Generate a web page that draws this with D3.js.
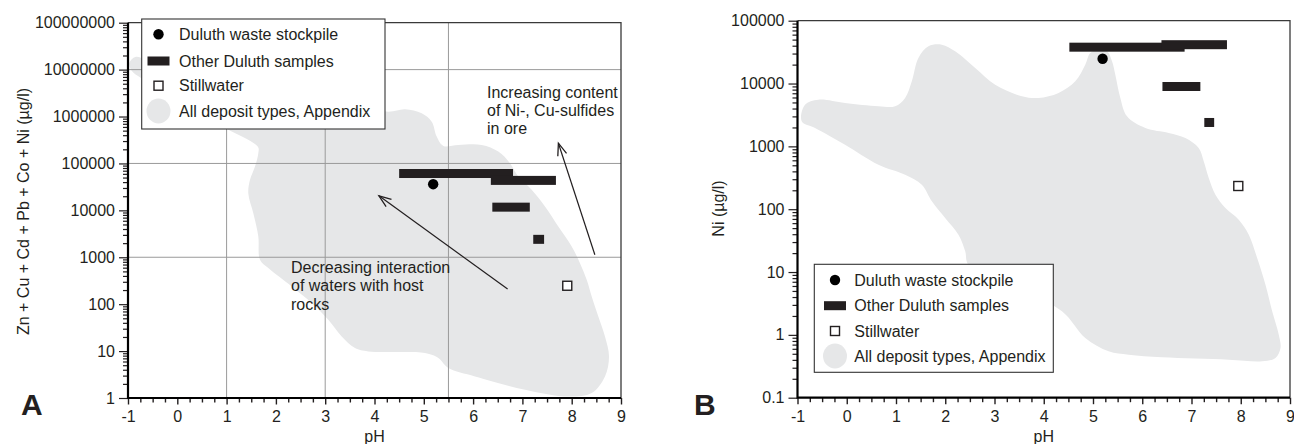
<!DOCTYPE html>
<html>
<head>
<meta charset="utf-8">
<script src="https://cdn.jsdelivr.net/npm/d3@7"></script>
<style>
  html, body { margin: 0; padding: 0; background: #fff; }
  svg text { font-family: "Liberation Sans", Arial, Helvetica, sans-serif; fill: #231f20; }
</style>
</head>
<body>
<svg id="chart" width="1294" height="444"></svg>
<script>
// ---- shared axis values ----
const phMajorTicks = [-1, 0, 1, 2, 3, 4, 5, 6, 7, 8, 9];
const phTickLabels = ["-1", "0", "1", "2", "3", "4", "5", "6", "7", "8", "9"];

// ---- panel A: sum of Zn + Cu + Cd + Pb + Co + Ni (µg/l) ----
const sumTicks = [1, 10, 100, 1000, 10000, 100000, 1000000, 10000000, 100000000];
const sumTickLabels = ["1", "10", "100", "1000", "10000", "100000", "1000000", "10000000", "100000000"];
const sumGridPh = [1, 3, 5.5];
const sumGridValues = [1000, 100000, 10000000];

const stockpileA = [[5.19, 36100]];                 // [pH, µg/l]
const otherDuluthA = [                              // [pH low, pH high, µg/l]
  [4.50, 6.81, 61000],
  [6.36, 7.68, 43500],
  [6.39, 7.15, 11700],
  [7.22, 7.44, 2410]
];
const stillwaterA = [[7.91, 247]];
// field of all deposit types: [pH, log10 µg/l]
const depositFieldA = [
  [-0.97, 7.15], [-0.85, 7.27], [-0.6, 7.2], [0.5, 6.95], [2.0, 6.55], [3.5, 6.25],
  [4.28, 6.104], [4.619, 6.155], [4.957, 6.07], [5.16, 5.891], [5.262, 5.572],
  [5.396, 5.374], [5.7, 5.395], [6.174, 5.395], [6.511, 5.252], [6.748, 5.005],
  [6.917, 4.72], [7.188, 4.437], [7.458, 4.081], [7.728, 3.655], [8.0, 3.229],
  [8.168, 2.875], [8.304, 2.52], [8.406, 2.164], [8.54, 1.738], [8.675, 1.312],
  [8.757, 0.886], [8.675, 0.46], [8.406, 0.107], [7.93, 0.03], [7.053, 0.177],
  [6.039, 0.46], [5.497, 0.639], [5.295, 0.852], [5.024, 0.958], [3.874, 0.993],
  [3.604, 1.065], [3.334, 1.312], [3.063, 1.668], [2.726, 2.024], [2.32, 2.377],
  [1.846, 2.77], [1.677, 2.946], [1.643, 3.442], [1.542, 3.94], [1.44, 4.366],
  [1.475, 4.65], [1.576, 4.933], [1.643, 5.218], [1.637, 5.353], [1.008, 5.736],
  [0.2, 6.2], [-0.72, 6.81], [-0.93, 6.98]
];
// arrows: [pH tail, µg/l tail, pH head, µg/l head]
const arrowsA = [
  [8.47, 1130, 7.73, 270000],
  [6.70, 210, 4.09, 20400]
];

// ---- panel B: Ni (µg/l) ----
const niTicks = [0.1, 1, 10, 100, 1000, 10000, 100000];
const niTickLabels = ["0.1", "1", "10", "100", "1000", "10000", "100000"];

const stockpileB = [[5.195, 24800]];
const otherDuluthB = [
  [4.52, 6.86, 37900],
  [6.39, 7.72, 41500],
  [6.41, 7.18, 8970],
  [7.26, 7.46, 2400]
];
const stillwaterB = [[7.95, 234]];
const depositFieldB = [
  [-0.915, 3.399], [-0.848, 3.663], [-0.577, 3.743], [-0.035, 3.69], [0.643, 3.638],
  [0.982, 3.638], [1.185, 3.77], [1.321, 4.035], [1.455, 4.406], [1.659, 4.592],
  [1.93, 4.618], [2.201, 4.513], [2.608, 4.247], [3.014, 3.981], [3.557, 3.797],
  [3.894, 3.77], [4.301, 3.849], [4.64, 4.035], [4.843, 4.3], [4.945, 4.486],
  [5.114, 4.538], [5.285, 4.513], [5.386, 4.354], [5.453, 4.14], [5.555, 3.77],
  [5.691, 3.478], [6.063, 3.292], [6.537, 3.213], [6.876, 3.133], [7.146, 2.974],
  [7.248, 2.762], [7.35, 2.496], [7.486, 2.231], [7.689, 2.019], [7.959, 1.833],
  [8.163, 1.594], [8.333, 1.223], [8.502, 0.798], [8.638, 0.375], [8.772, 0.002],
  [8.807, -0.209], [8.705, -0.368], [8.435, -0.421], [7.756, -0.395], [6.402, -0.357],
  [5.724, -0.316], [5.317, -0.262], [4.843, -0.05], [4.37, 0.375], [3.354, 0.798],
  [2.472, 1.116], [2.405, 1.33], [2.268, 1.594], [1.998, 1.86], [1.728, 2.126],
  [1.524, 2.39], [1.185, 2.549], [0.643, 2.708], [-0.035, 3.026], [-0.644, 3.292]
];

const legendLabels = ["Duluth waste stockpile", "Other Duluth samples", "Stillwater", "All deposit types, Appendix"];

// ---- styling ----
const INK = "#231f20";
const FIELD = "#e6e7e8";
const FONT = 16;

const svg = d3.select("#chart");

function drawPanel(cfg) {
  const g = svg.append("g");
  const x = d3.scaleLinear().domain([-1, 9]).range(cfg.xRange);
  const y = d3.scaleLog().domain(cfg.yDomain).range(cfg.yRange);
  const [x0, x1] = cfg.xRange;
  const [yb, yt] = cfg.yRange;

  // deposit field
  const area = d3.line()
    .x(d => x(d[0]))
    .y(d => y(Math.pow(10, d[1])))
    .curve(d3.curveCatmullRomClosed.alpha(0.5));
  g.append("path").attr("d", area(cfg.field)).attr("fill", FIELD).attr("stroke", "none");

  // grid
  if (cfg.gridX) {
    g.selectAll(".gx").data(cfg.gridX).enter().append("line")
      .attr("x1", d => x(d)).attr("x2", d => x(d)).attr("y1", yb).attr("y2", yt)
      .attr("stroke", "#9a9a9a").attr("stroke-width", 1);
    g.selectAll(".gy").data(cfg.gridY).enter().append("line")
      .attr("x1", x0).attr("x2", x1).attr("y1", d => y(d)).attr("y2", d => y(d))
      .attr("stroke", "#9a9a9a").attr("stroke-width", 1);
  }

  // top / right frame
  g.append("path")
    .attr("d", `M${x0},${yt}H${x1}V${yb}`)
    .attr("fill", "none").attr("stroke", "#3a3a3a").attr("stroke-width", 1.3);

  // other Duluth samples (pH ranges)
  const barH = 9;
  g.selectAll(".bar").data(cfg.bars).enter().append("rect")
    .attr("x", d => x(d[0])).attr("width", d => x(d[1]) - x(d[0]))
    .attr("y", d => y(d[2]) - barH / 2).attr("height", barH)
    .attr("fill", INK);

  // Duluth waste stockpile
  g.selectAll(".pt").data(cfg.stockpile).enter().append("circle")
    .attr("cx", d => x(d[0])).attr("cy", d => y(d[1])).attr("r", 5.2).attr("fill", "#000");

  // Stillwater
  const sq = 9;
  g.selectAll(".sw").data(cfg.stillwater).enter().append("rect")
    .attr("x", d => x(d[0]) - sq / 2).attr("y", d => y(d[1]) - sq / 2)
    .attr("width", sq).attr("height", sq)
    .attr("fill", "#fff").attr("stroke", INK).attr("stroke-width", 1.4);

  // arrows
  (cfg.arrows || []).forEach(a => {
    const tx = x(a[0]), ty = y(a[1]), hx = x(a[2]), hy = y(a[3]);
    const ang = Math.atan2(hy - ty, hx - tx);
    const L = 13, spread = 0.36;
    g.append("line").attr("x1", tx).attr("y1", ty).attr("x2", hx).attr("y2", hy)
      .attr("stroke", INK).attr("stroke-width", 1.2);
    g.append("path")
      .attr("d", `M${hx - L * Math.cos(ang - spread)},${hy - L * Math.sin(ang - spread)}L${hx},${hy}L${hx - L * Math.cos(ang + spread)},${hy - L * Math.sin(ang + spread)}`)
      .attr("fill", "none").attr("stroke", INK).attr("stroke-width", 1.3);
  });

  // annotation texts
  (cfg.notes || []).forEach(n => {
    const t = g.append("text").attr("x", n.x).attr("y", n.y).attr("font-size", FONT);
    n.lines.forEach((s, i) => t.append("tspan").attr("x", n.x).attr("dy", i === 0 ? 0 : n.lh).text(s));
  });

  // x axis: minor + major ticks
  const minor = d3.range(-1, 9.001, 0.25).filter(v => Math.abs(v - Math.round(v)) > 1e-6);
  const xMinor = g.append("g").attr("transform", `translate(0,${yb})`)
    .call(d3.axisBottom(x).tickValues(minor).tickSize(4.5).tickFormat(""));
  const xMajor = g.append("g").attr("transform", `translate(0,${yb})`)
    .call(d3.axisBottom(x).tickValues(phMajorTicks).tickSize(6.5).tickSizeOuter(0).tickPadding(6)
      .tickFormat((d, i) => phTickLabels[i]));
  [xMinor, xMajor].forEach(a => {
    a.select(".domain").remove();
    a.selectAll("line").attr("stroke", INK).attr("stroke-width", 1.4);
    a.selectAll("text").attr("font-size", FONT).attr("font-family", null).attr("fill", INK);
  });

  // y axis: log minor + decade ticks
  const yMinor = [];
  cfg.yTicks.slice(0, -1).forEach(dec => { for (let k = 2; k <= 9; k++) yMinor.push(dec * k); });
  const yMin = g.append("g").attr("transform", `translate(${x0},0)`)
    .call(d3.axisLeft(y).tickValues(yMinor).tickSize(5).tickFormat(""));
  const yMaj = g.append("g").attr("transform", `translate(${x0},0)`)
    .call(d3.axisLeft(y).tickValues(cfg.yTicks).tickSize(9).tickSizeOuter(0).tickPadding(cfg.yPad)
      .tickFormat((d, i) => cfg.yLabels[i]));
  [yMin, yMaj].forEach(a => {
    a.select(".domain").remove();
    a.selectAll("line").attr("stroke", INK).attr("stroke-width", 1.2);
    a.selectAll("text").attr("font-size", FONT).attr("font-family", null).attr("fill", INK);
  });

  // axis lines
  g.append("path").attr("d", `M${x0},${yt}V${yb}H${x1}`)
    .attr("fill", "none").attr("stroke", "#000").attr("stroke-width", 2.2);

  // axis titles
  g.append("text").attr("x", (x0 + x1) / 2).attr("y", 442).attr("text-anchor", "middle")
    .attr("font-size", FONT).text("pH");
  g.append("text")
    .attr("transform", `translate(${cfg.yTitleX},${cfg.yTitleY}) rotate(-90)`)
    .attr("text-anchor", "middle").attr("dominant-baseline", "central")
    .attr("font-size", FONT).text(cfg.yTitle);

  // panel letter
  g.append("text").attr("x", cfg.letterX).attr("y", 415)
    .attr("font-size", 30).attr("font-weight", "bold").text(cfg.letter);

  // legend
  const L = cfg.legend;
  const lg = g.append("g");
  lg.append("rect").attr("x", L.x).attr("y", L.y).attr("width", L.w).attr("height", L.h)
    .attr("fill", "#fff").attr("stroke", "#333").attr("stroke-width", 1.1);
  lg.append("circle").attr("cx", L.sx).attr("cy", L.rows[0]).attr("r", 5.2).attr("fill", "#000");
  lg.append("rect").attr("x", L.sx - 11).attr("width", 22).attr("y", L.rows[1] - 4.5).attr("height", 9).attr("fill", INK);
  lg.append("rect").attr("x", L.sx - 4.5).attr("y", L.rows[2] - 4.5).attr("width", 9).attr("height", 9)
    .attr("fill", "#fff").attr("stroke", INK).attr("stroke-width", 1.4);
  lg.append("ellipse").attr("cx", L.sx).attr("cy", L.rows[3]).attr("rx", 12).attr("ry", 12.5).attr("fill", FIELD);
  lg.selectAll(".lt").data(legendLabels).enter().append("text")
    .attr("x", L.tx).attr("y", (d, i) => L.rows[i]).attr("dy", "0.36em")
    .attr("font-size", FONT).text(d => d);
}

drawPanel({
  xRange: [128, 621], yRange: [398, 22.7], yDomain: [1, 1e8],
  yTicks: sumTicks, yLabels: sumTickLabels, yPad: 4,
  field: depositFieldA, bars: otherDuluthA, stockpile: stockpileA, stillwater: stillwaterA,
  gridX: sumGridPh, gridY: sumGridValues,
  arrows: arrowsA,
  notes: [
    { x: 487, y: 97.5, lh: 18.3, lines: ["Increasing content", "of Ni-, Cu-sulfides", "in ore"] },
    { x: 291, y: 272.5, lh: 18.5, lines: ["Decreasing interaction", "of waters with host", "rocks"] }
  ],
  yTitle: "Zn + Cu + Cd + Pb + Co + Ni (µg/l)", yTitleX: 23, yTitleY: 211.5,
  letter: "A", letterX: 21,
  legend: { x: 141.7, y: 19, w: 243.3, h: 110, rows: [34.3, 61, 85.7, 111], sx: 158.5, tx: 179 }
});

drawPanel({
  xRange: [797.5, 1290], yRange: [397.7, 20.7], yDomain: [0.1, 1e5],
  yTicks: niTicks, yLabels: niTickLabels, yPad: 4,
  field: depositFieldB, bars: otherDuluthB, stockpile: stockpileB, stillwater: stillwaterB,
  yTitle: "Ni (µg/l)", yTitleX: 718.5, yTitleY: 208.5,
  letter: "B", letterX: 694,
  legend: { x: 814.3, y: 264.3, w: 239, h: 108, rows: [280, 305.7, 331, 356], sx: 835, tx: 854.3 }
});
</script>
</body>
</html>
